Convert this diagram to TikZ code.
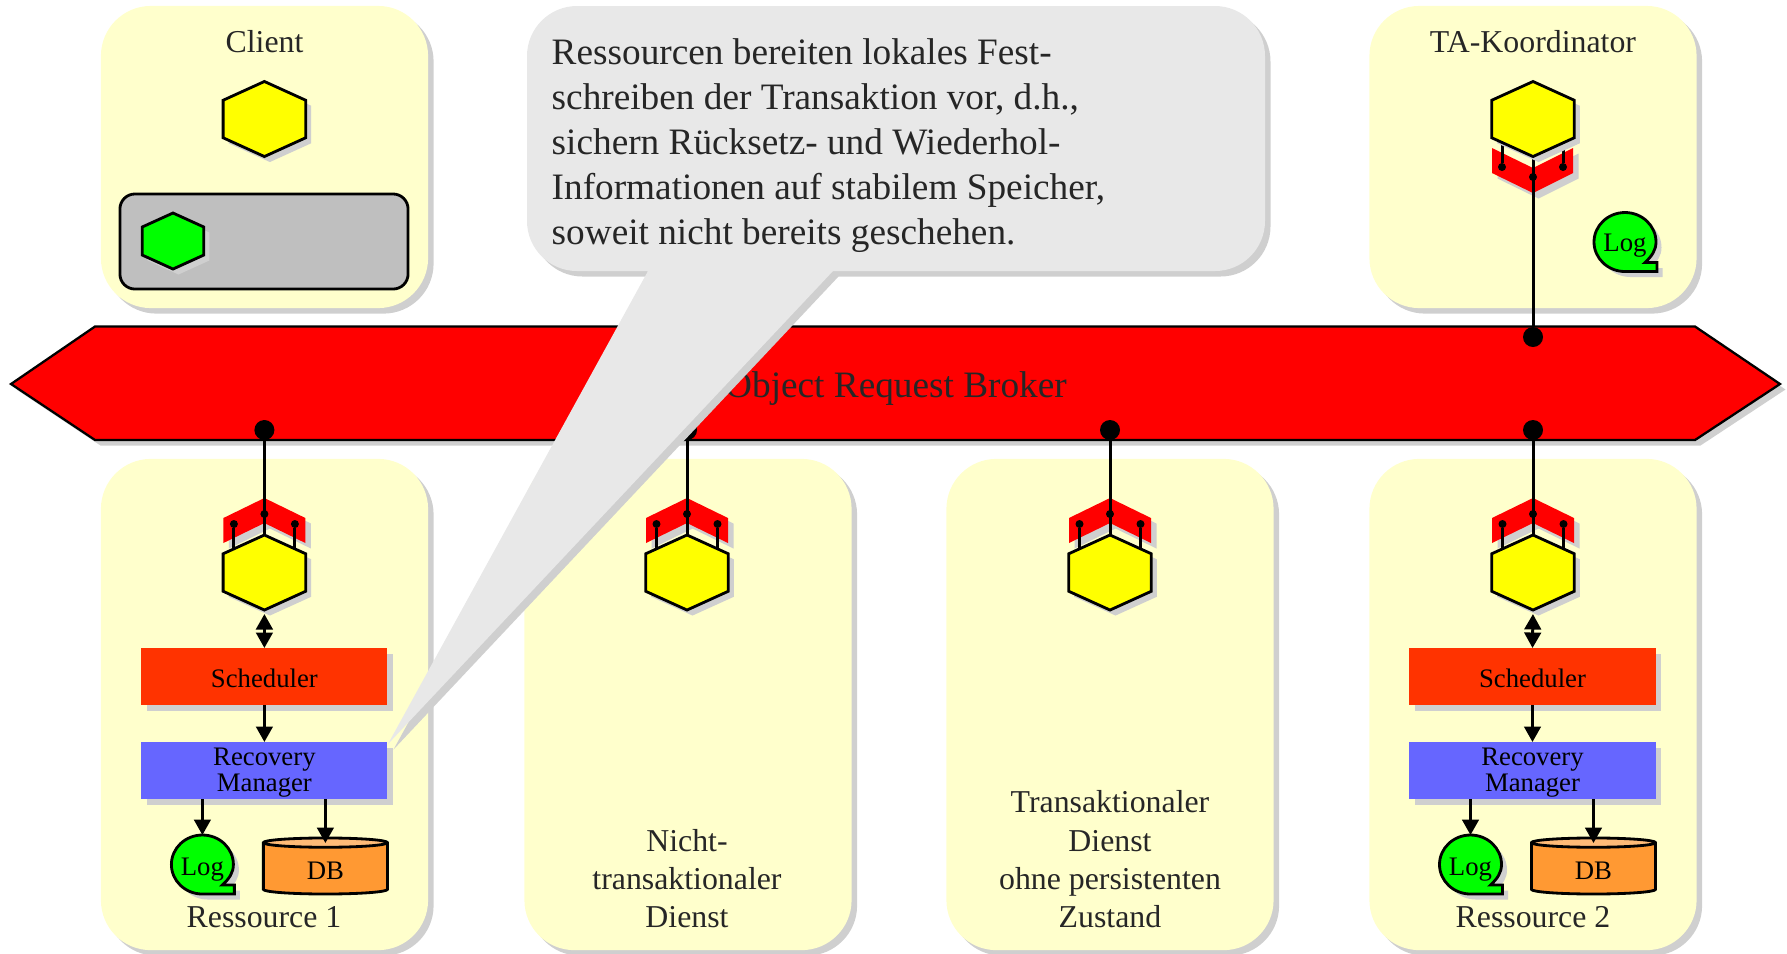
\documentclass[tikz,border=0pt]{standalone}
\usepackage{fontspec}
\setmainfont{Liberation Serif}
\usetikzlibrary{shapes.geometric,shadows,arrows.meta}

\definecolor{panelyellow}{HTML}{FFFFCC}
\definecolor{shadowgray}{HTML}{CFCFCF}
\definecolor{notegray}{HTML}{E8E8E8}
\definecolor{schedred}{HTML}{FF3300}
\definecolor{recoveryblue}{HTML}{6666FF}
\definecolor{dborange}{HTML}{FF9933}
\definecolor{dbtop}{HTML}{FFBB77}
\definecolor{objectyellow}{HTML}{FFFF00}
\definecolor{proxygreen}{HTML}{00FF00}
\definecolor{busred}{HTML}{FF0000}

\tikzset{
  castshadow/.style={drop shadow={opacity=1,fill=shadowgray,shadow xshift=0.055cm,shadow yshift=-0.055cm}},
  wire/.style={black,line width=0.85pt},
  flow/.style={wire,-{Triangle[length=4.4pt,width=4.7pt]}},
  panel/.style={rectangle,fill=panelyellow,rounded corners=0.5cm,castshadow,minimum width=3.27cm,inner sep=0pt,outer sep=0pt},
  caption/.style={text=black!85,font=\fontsize{9.05}{10.9}\selectfont,align=center},
  hexnode/.style={regular polygon,regular polygon sides=6,shape border rotate=30,xscale=1.27,transform shape,
    draw=black,line width=0.8pt,fill=objectyellow,minimum size=0.75cm,inner sep=0pt,outer sep=0pt,castshadow},
  chevron/.style={fill=busred,castshadow},
  busdot/.style={circle,fill=black,minimum size=0.2cm,inner sep=0pt,outer sep=0pt},
  pindot/.style={circle,fill=black,minimum size=0.08cm,inner sep=0pt,outer sep=0pt},
  stackbox/.style={rectangle,minimum width=2.46cm,minimum height=0.57cm,inner sep=0pt,outer sep=0pt,castshadow,
    align=center,font=\fontsize{7.6}{7.4}\selectfont},
  bubble/.style={draw=black,line width=0.8pt,fill=proxygreen,castshadow},
  bubbletext/.style={circle,minimum size=0.59cm,inner sep=0pt,outer sep=0pt,font=\fontsize{7.6}{9}\selectfont},
  drum/.style={cylinder,shape border rotate=90,aspect=0.25,draw=black,line width=0.8pt,cylinder uses custom fill,
    cylinder body fill=dborange,cylinder end fill=dbtop,minimum width=1.24cm,minimum height=0.56cm,
    inner sep=0pt,outer sep=0pt,font=\fontsize{7.6}{9}\selectfont},
}

\def\logpath{(0,29.5) -- (32,29.5) -- (32,20.5) -- (20,20.5)
  .. controls (27,14) and (31,8) .. (31,0)
  .. controls (31,-16.3) and (17.1,-29.5) .. (0,-29.5)
  .. controls (-17.1,-29.5) and (-31,-16.3) .. (-31,0)
  .. controls (-31,16.3) and (-17.1,29.5) .. (0,29.5) -- cycle}

% chevron, object and pins below the bus
\newcommand{\servicecol}[2]{
  \begin{scope}[shift={(#2,0)}]
    \fill[chevron] (-41,518) -- (0,498) -- (41,518) -- (41,543) -- (0,523) -- (-41,543) -- cycle;
    \node[hexnode] (hex#1) at (0,572.5) {};
    \node[busdot] (bus#1) at (0,430) {};
    \node[pindot] (pin#1) at (0,514) {};
    \node[pindot] (pinl#1) at (-30.5,524) {};
    \node[pindot] (pinr#1) at (30.5,524) {};
    \coordinate (footl#1) at (-30.5,548);
    \coordinate (footr#1) at (30.5,548);
    \draw[wire] (bus#1) -- (hex#1.north);
    \draw[wire] (pinl#1) -- (footl#1);
    \draw[wire] (pinr#1) -- (footr#1);
  \end{scope}
}

% scheduler, recovery manager, log and database
\newcommand{\resourcestack}[2]{
  \begin{scope}[shift={(#2,0)}]
    \node[stackbox,fill=schedred] (sched#1) at (0,676.5) {\rule{0pt}{0.22cm}Scheduler};
    \node[stackbox,fill=recoveryblue] (rec#1) at (0,770.5) {\rule{0pt}{0.22cm}Recovery\\Manager};
    \draw[bubble,shift={(-62,864.5)}] \logpath;
    \node[bubbletext] (log#1) at (-62,870) {Log};
    \node[drum] (db#1) at (61,869) {\rule{0pt}{0.22cm}DB};
    \draw[wire,{Triangle[length=4.4pt,width=4.7pt]}-{Triangle[length=4.4pt,width=4.7pt]},shorten <=0.04cm] (hex#1.south) -- (sched#1.north);
    \draw[flow] (sched#1) -- (rec#1);
    \draw[flow] (rec#1.south -| log#1) -- ++(0,36);
    \draw[flow] (rec#1.south -| db#1) -- ++(0,44);
  \end{scope}
}

\begin{document}
\begin{tikzpicture}[x=0.01cm,y=-0.01cm]
  \useasboundingbox (0,0) rectangle (1787,953);

  % boxes
  \node[panel,minimum height=3.02cm] (clientbox) at (264.5,157) {};
  \node[panel,minimum height=3.02cm] (coordbox) at (1533,157) {};
  \node[panel,minimum height=4.91cm] (resabox) at (264.5,704.5) {};
  \node[panel,minimum height=4.91cm] (nontabox) at (688,704.5) {};
  \node[panel,minimum height=4.91cm] (tabox) at (1110,704.5) {};
  \node[panel,minimum height=4.91cm] (resbbox) at (1533,704.5) {};

  \node[caption] (clienttext) at (264.5,42) {Client};
  \node[caption] (coordtext) at (1533,42) {TA-Koordinator};
  \node[caption] (resatext) at (264,917) {Ressource 1};
  \node[caption] (resbtext) at (1533,917) {Ressource 2};
  \node[caption] (nontatext) at (687,878.5) {Nicht-\\transaktionaler\\Dienst};
  \node[caption] (tatext) at (1110,859.5) {Transaktionaler\\Dienst\\ohne persistenten\\Zustand};

  % bus
  \draw[fill=busred,line width=0.65pt,castshadow] (11,384) -- (95,326.5) -- (1695,326.5) -- (1780,384) -- (1695,440) -- (95,440) -- cycle;
  \node[text=black!85,font=\fontsize{10.6}{12.6}\selectfont] (orbtext) at (896,389) {Object Request Broker};

  % client
  \node[hexnode] (hexclient) at (264.4,119) {};
  \node[rectangle,draw=black,line width=0.8pt,fill=black!25,rounded corners=0.15cm,minimum width=2.88cm,minimum height=0.95cm] (proxybox) at (264,241.5) {};
  \node[hexnode,fill=proxygreen,minimum size=0.56cm] (hexproxy) at (173,241) {};

  % coordinator
  \fill[chevron] (1492,148) -- (1533,168) -- (1573,148) -- (1573,173) -- (1533,193) -- (1492,173) -- cycle;
  \node[busdot] (buscoord) at (1533,337) {};
  \node[pindot] (pincoord) at (1533,177) {};
  \node[pindot] (pinlcoord) at (1502,167) {};
  \node[pindot] (pinrcoord) at (1563,167) {};
  \coordinate (footlcoord) at (1502,143);
  \coordinate (footrcoord) at (1563,143);
  \coordinate (footcoord) at (1533,150);
  \draw[wire] (pinlcoord) -- (footlcoord);
  \draw[wire] (pinrcoord) -- (footrcoord);
  \draw[wire] (buscoord) -- (footcoord);
  \node[hexnode] (hexcoord) at (1533,119) {};
  \draw[bubble,shift={(1625,242)}] \logpath;
  \node[bubbletext] (logcoord) at (1625,245.5) {Log};

  \servicecol{a}{264.4}
  \servicecol{b}{687}
  \servicecol{c}{1110}
  \servicecol{d}{1533}

  \resourcestack{a}{264.4}
  \resourcestack{d}{1532.5}

  % note
  \fill[notegray,castshadow,rounded corners=0.5cm] (527,6) -- (1265,6) -- (1265,271) -- (1100,271) [sharp corners] -- (833,271) -- (388,744) -- (648,271) [rounded corners=0.5cm] -- (527,271) -- cycle;
  \node[anchor=west,align=left,text=black!85,font=\fontsize{10.6}{12.8}\selectfont,inner sep=0pt] (notetext) at (551,146) {Ressourcen bereiten lokales Fest-\\schreiben der Transaktion vor, d.h.,\\sichern Rücksetz- und Wiederhol-\\Informationen auf stabilem Speicher,\\soweit nicht bereits geschehen.};
\end{tikzpicture}
\end{document}
